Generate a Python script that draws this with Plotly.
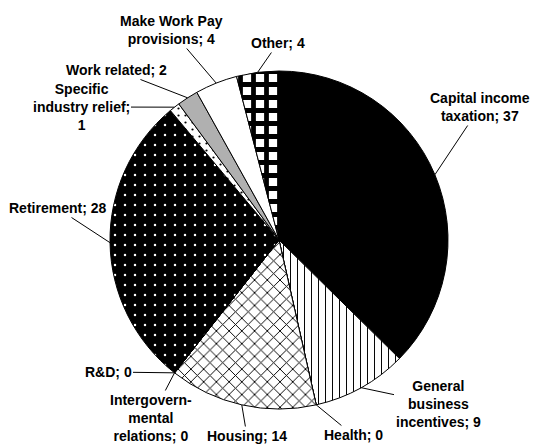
import math
import plotly.graph_objects as go

# Shares of tax expenditure by category (percent, rounded)
categories = ["Capital income taxation", "General business incentives", "Health", "Housing",
              "Intergovernmental relations", "R&D", "Retirement", "Specific industry relief",
              "Work related", "Make Work Pay provisions", "Other"]
shares = [37, 9, 0, 14, 0, 0, 28, 1, 2, 4, 4]

# Label text with line breaks; {v} is replaced by the share
label_templates = ["Capital income<br>taxation; {v}", "General<br>business<br>incentives; {v}",
                   "Health; {v}", "Housing; {v}", "Intergovern-<br>mental<br>relations; {v}",
                   "R&D; {v}", "Retirement; {v}", "Specific<br>industry relief;<br>{v}",
                   "Work related; {v}", "Make Work Pay<br>provisions; {v}", "Other; {v}"]

# Fill styling per slice
fill_shape = ["", "|", "", "x", "", "", ".", ".", "", "", "+"]
fill_fg = ["black", "black", "white", "black", "white", "white", "white", "black",
           "#b0b0b0", "white", "black"]
fill_bg = ["black", "white", "white", "white", "white", "white", "black", "white",
           "#b0b0b0", "white", "white"]
fill_size = [8, 7, 8, 9, 8, 8, 10, 7, 8, 8, 13]
fill_solidity = [0.3, 0.14, 0.3, 0.2, 0.3, 0.3, 0.05, 0.08, 0.3, 0.3, 0.6]

# Label centres in pixels (x from left, y from top)
label_px = [(480, 107), (438, 404), (353, 435), (247, 436), (151, 418),
            (108, 372), (57, 208), (81, 107), (116, 70), (171, 30), (278, 43)]

W, H = 533, 445
CX, CY, R = 279, 240, 169

fig = go.Figure(go.Pie(
    labels=categories,
    values=shares,
    sort=False,
    direction="clockwise",
    rotation=0,
    textinfo="none",
    hoverinfo="label+value",
    marker=dict(
        colors=fill_bg,
        line=dict(color="black", width=1),
        pattern=dict(shape=fill_shape, fgcolor=fill_fg, bgcolor=fill_bg,
                     size=fill_size, solidity=fill_solidity, fillmode="replace"),
    ),
    domain=dict(x=[(CX - R) / W, (CX + R) / W], y=[(H - CY - R) / H, (H - CY + R) / H]),
    showlegend=False,
))

# Leader lines run from each label to the middle of its slice edge
total = sum(shares)
cum = 0.0
annotations = []
for tmpl, v, (lx, ly) in zip(label_templates, shares, label_px):
    mid = (cum + v / 2) / total
    cum += v
    theta = 2 * math.pi * mid
    tx = CX + R * math.sin(theta)
    ty = CY - R * math.cos(theta)
    annotations.append(dict(
        x=tx / W, y=1 - ty / H, xref="paper", yref="paper",
        text="<b>" + tmpl.format(v=v) + "</b>",
        showarrow=True, arrowhead=0, arrowwidth=1, arrowcolor="black", standoff=0,
        ax=lx - tx, ay=ly - ty,
        font=dict(family="Liberation Sans, Arial, sans-serif", size=14, color="black"),
        align="center",
    ))

fig.update_layout(
    width=W, height=H,
    margin=dict(l=0, r=0, t=0, b=0),
    paper_bgcolor="white", plot_bgcolor="white",
    annotations=annotations,
)

fig.write_html("out.html")
